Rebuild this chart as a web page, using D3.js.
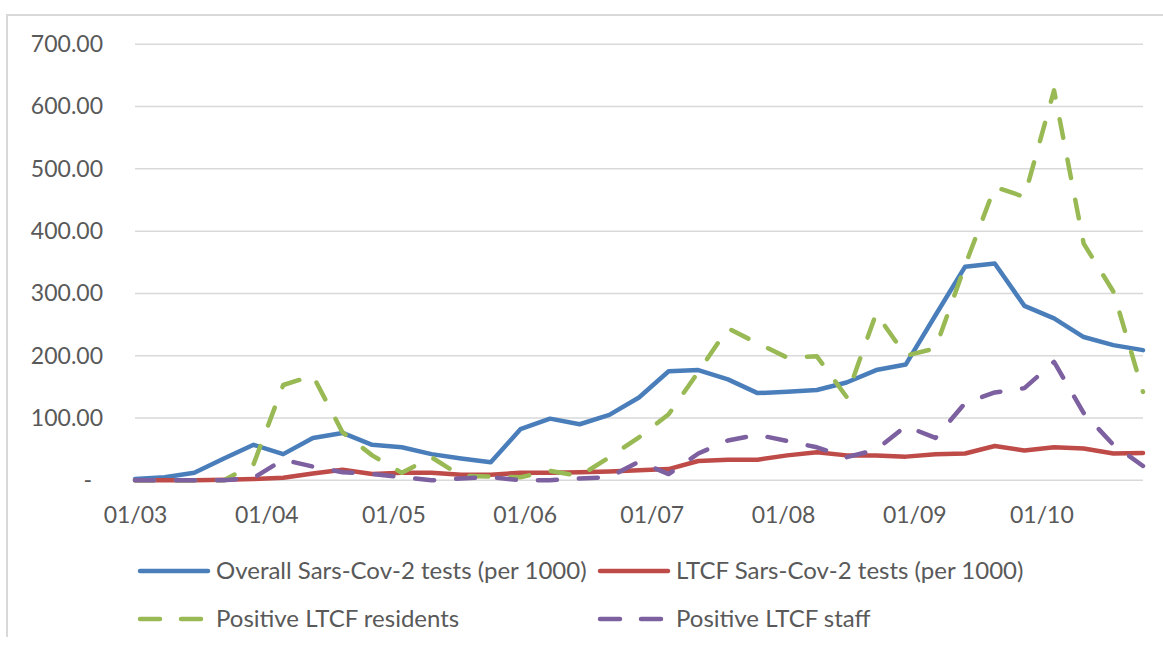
<!DOCTYPE html>
<html>
<head>
<meta charset="utf-8">
<script src="https://cdn.jsdelivr.net/npm/d3@7"></script>
<style>
  html, body { margin: 0; padding: 0; background: #fff; }
  svg { display: block; }
  text { font-family: Lato, "Open Sans", sans-serif; fill: #595959; }
</style>
</head>
<body>
<svg id="chart" width="1163" height="646"></svg>
<script>
// ---- data (weekly) ----
const dates = [
  "2020-03-01","2020-03-08","2020-03-15","2020-03-22","2020-03-29",
  "2020-04-05","2020-04-12","2020-04-19","2020-04-26","2020-05-03",
  "2020-05-10","2020-05-17","2020-05-24","2020-05-31","2020-06-07",
  "2020-06-14","2020-06-21","2020-06-28","2020-07-05","2020-07-12",
  "2020-07-19","2020-07-26","2020-08-02","2020-08-09","2020-08-16",
  "2020-08-23","2020-08-30","2020-09-06","2020-09-13","2020-09-20",
  "2020-09-27","2020-10-04","2020-10-11","2020-10-18","2020-10-25"
];
const overallTests = [2,5,12,35,57,42,68,76,57,53,42,35,29,82,99,90,105,133,175,177,162,140,142,145,157,177,186,265,343,348,280,260,230,217,209];
const ltcfTests    = [0,0,0,1,2,4,11,17,10,12,12,9,9,12,12,13,14,16,18,31,33,33,40,45,40,40,38,42,43,55,48,53,51,43,44];
const posResidents = [0,0,0,0,26,153,168,77,40,12,37,7,6,5,15,7,37,69,106,174,244,220,197,199,134,268,200,212,345,471,455,626,380,303,142];
const posStaff     = [0,0,0,0,4,33,22,13,10,5,0,3,5,0,0,3,5,30,10,43,64,73,63,53,37,49,87,68,124,141,148,190,108,57,23];
const yTicks = [0,100,200,300,400,500,600,700];
const xTickDates = ["2020-03-01","2020-04-01","2020-05-01","2020-06-01","2020-07-01","2020-08-01","2020-09-01","2020-10-01"];
const seriesNames = ["Overall Sars-Cov-2 tests (per 1000)","LTCF Sars-Cov-2 tests (per 1000)","Positive LTCF residents","Positive LTCF staff"];

// ---- setup ----
const parse = d3.utcParse("%Y-%m-%d");
const svg = d3.select("#chart");
const W = 1163, H = 646;
const plot = {left: 135, right: 1143, top: 44.3, bottom: 480.3};
const axisFont = 23, legendFont = 24;

svg.append("rect").attr("width", W).attr("height", H).attr("fill", "#fff");
// chart area border (top & left visible)
svg.append("path")
  .attr("d", `M7,637 L7,15 L${W + 5},15`)
  .attr("fill", "none").attr("stroke", "#d9d9d9").attr("stroke-width", 2);

const x = d3.scaleUtc()
  .domain([parse(dates[0]), parse(dates[dates.length - 1])])
  .range([plot.left, plot.right]);
const y = d3.scaleLinear().domain([0, 700]).range([plot.bottom, plot.top]);

// gridlines
svg.append("g").selectAll("line").data(yTicks).join("line")
  .attr("x1", plot.left).attr("x2", plot.right)
  .attr("y1", d => y(d)).attr("y2", d => y(d))
  .attr("stroke", "#d9d9d9").attr("stroke-width", 1.5);

// y axis
const yAxis = svg.append("g")
  .attr("transform", `translate(${plot.left - 32},0)`)
  .call(d3.axisLeft(y).tickValues(yTicks).tickSize(0).tickPadding(0)
    .tickFormat(d => d === 0 ? "-" : d3.format(".2f")(d)));
yAxis.select(".domain").remove();
yAxis.selectAll("text")
  .attr("font-size", axisFont).attr("fill", "#595959")
  .style("font-family", "Lato, sans-serif")
  .attr("dx", d => d === 0 ? -11 : 0);

// x axis
const xAxis = svg.append("g")
  .attr("transform", `translate(0,${plot.bottom})`)
  .call(d3.axisBottom(x).tickValues(xTickDates.map(parse)).tickSize(0).tickPadding(26)
    .tickFormat(d3.utcFormat("%d/%m")));
xAxis.select(".domain").remove();
xAxis.selectAll("text")
  .attr("font-size", axisFont).attr("fill", "#595959")
  .style("font-family", "Lato, sans-serif");

// lines
const series = [
  {name: seriesNames[0], values: overallTests, color: "#4a7ebb", dash: null},
  {name: seriesNames[1], values: ltcfTests,    color: "#be4b48", dash: null},
  {name: seriesNames[2], values: posResidents, color: "#98b954", dash: "19 22"},
  {name: seriesNames[3], values: posStaff,     color: "#7d60a0", dash: "19 22"}
];
const line = d3.line().x((d, i) => x(parse(dates[i]))).y(d => y(d));
svg.append("g").selectAll("path").data(series).join("path")
  .attr("d", s => line(s.values))
  .attr("fill", "none")
  .attr("stroke", s => s.color)
  .attr("stroke-width", 4.5)
  .attr("stroke-linejoin", "round")
  .attr("stroke-linecap", "round")
  .attr("stroke-dasharray", s => s.dash);

// legend
const legPos = [
  {lx: 140, tx: 216, y: 571},
  {lx: 600, tx: 676, y: 571},
  {lx: 140, tx: 216, y: 619},
  {lx: 600, tx: 676, y: 619}
];
const leg = svg.append("g").selectAll("g").data(series).join("g");
leg.append("line")
  .attr("x1", (s, i) => legPos[i].lx).attr("x2", (s, i) => legPos[i].lx + 68)
  .attr("y1", (s, i) => legPos[i].y).attr("y2", (s, i) => legPos[i].y)
  .attr("stroke", s => s.color).attr("stroke-width", 4.5)
  .attr("stroke-linecap", "round")
  .attr("stroke-dasharray", s => s.dash ? "20 21" : null);
leg.append("text")
  .attr("x", (s, i) => legPos[i].tx).attr("y", (s, i) => legPos[i].y)
  .attr("dy", "0.35em")
  .attr("font-size", legendFont)
  .text(s => s.name);
</script>
</body>
</html>
